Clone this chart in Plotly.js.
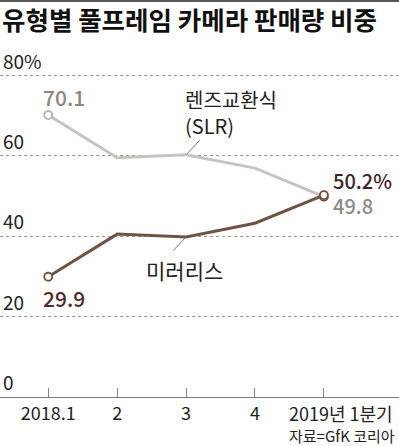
<!DOCTYPE html>
<html>
<head>
<meta charset="utf-8">
<script src="https://cdn.plot.ly/plotly-3.0.1.min.js"></script>
<style>
  html, body { margin: 0; padding: 0; background: #fff; }
  #wrap { position: relative; width: 399px; height: 446px; }
  #topbar { position: absolute; left: 0; top: 0; width: 399px; height: 2px; background: #5a5a5a; z-index: 5; }
  #chart { width: 399px; height: 446px; }
</style>
</head>
<body>
<div id="wrap"><div id="topbar"></div><div id="chart"></div></div>
<script>
// ---- data ----
const categories = ["2018.1", "2", "3", "4", "2019년 1분기"];
const tickLabels = ["2018.1", "2", "3", "4", ""];
const slrValues = [70.1, 59.5, 60.2, 56.9, 49.8];
const mirrorlessValues = [29.9, 40.5, 39.8, 43.2, 50.2];
const yTickValues = [0, 20, 40, 60, 80];
const yTickLabels = ["0", "20", "40", "60", "80%"];
const titleText = "유형별 풀프레임 카메라 판매량 비중";
const sourceText = "자료=GfK 코리아";
const slrName = "렌즈교환식";
const slrSub = "(SLR)";
const mirrorlessName = "미러리스";

// ---- style ----
const FONT = "'Noto Sans CJK KR', 'Noto Sans', sans-serif";
const slrColor = "#c9c2be";
const mlColor = "#6f5446";
const last = categories.length - 1;

const traces = [
  { x: categories, y: slrValues, type: "scatter", mode: "lines",
    line: { color: slrColor, width: 3 }, hoverinfo: "skip", cliponaxis: false },
  { x: categories, y: mirrorlessValues, type: "scatter", mode: "lines",
    line: { color: mlColor, width: 3 }, hoverinfo: "skip", cliponaxis: false },
  { x: [categories[0]], y: [slrValues[0]], type: "scatter", mode: "markers",
    marker: { symbol: "circle", size: 8, color: "#fff", line: { color: "#b5ada8", width: 1.8 } },
    cliponaxis: false, hoverinfo: "skip" },
  { x: [categories[last], categories[0]], y: [slrValues[last], mirrorlessValues[0]], type: "scatter", mode: "markers",
    marker: { symbol: "circle", size: 8, color: "#fff", line: { color: mlColor, width: 1.8 } },
    cliponaxis: false, hoverinfo: "skip" },
  { x: [categories[last]], y: [mirrorlessValues[last]], type: "scatter", mode: "markers",
    marker: { symbol: "circle", size: 8, color: "#fff", line: { color: mlColor, width: 1.8 } },
    cliponaxis: false, hoverinfo: "skip" }
];

const annotations = [
  // data value labels (x given as category index)
  { x: 0, y: slrValues[0], xref: "x", yref: "y", text: slrValues[0].toFixed(1),
    showarrow: false, xanchor: "left", yanchor: "middle", xshift: -7, yshift: 18,
    font: { family: FONT, size: 21, color: "#8e8682", weight: 500 } },
  { x: 0, y: mirrorlessValues[0], xref: "x", yref: "y", text: mirrorlessValues[0].toFixed(1),
    showarrow: false, xanchor: "left", yanchor: "middle", xshift: -7, yshift: -21,
    font: { family: FONT, size: 21, color: "#4f2b2d", weight: 500 } },
  { x: last, y: mirrorlessValues[last], xref: "x", yref: "y", text: mirrorlessValues[last].toFixed(1) + "%",
    showarrow: false, xanchor: "left", yanchor: "middle", xshift: 7, yshift: 15,
    font: { family: FONT, size: 20, color: "#3e2427", weight: 500 } },
  { x: last, y: slrValues[last], xref: "x", yref: "y", text: slrValues[last].toFixed(1),
    showarrow: false, xanchor: "left", yanchor: "middle", xshift: 7, yshift: -9,
    font: { family: FONT, size: 20, color: "#918a86", weight: 500 } },
  // series name labels
  { x: 2, y: slrValues[2], xref: "x", yref: "y", text: slrName + "<br>" + slrSub, showarrow: false,
    xanchor: "left", yanchor: "middle", align: "left", xshift: -3, yshift: 42,
    font: { family: FONT, size: 20, color: "#222" } },
  { x: 2, y: mirrorlessValues[2], xref: "x", yref: "y", text: mirrorlessName, showarrow: false,
    xanchor: "left", yanchor: "middle", xshift: -42, yshift: -33,
    font: { family: FONT, size: 21, color: "#222" } },
  // leader lines
  { x: 2, y: slrValues[2], xref: "x", yref: "y", text: "", showarrow: true, arrowhead: 0,
    arrowwidth: 1, arrowcolor: "#777", ax: 15, ay: -16, standoff: 1 },
  { x: 2, y: mirrorlessValues[2], xref: "x", yref: "y", text: "", showarrow: true, arrowhead: 0,
    arrowwidth: 1, arrowcolor: "#777", ax: -14, ay: 15, standoff: 1 },
  // last x tick label
  { x: last, y: 0, xref: "x", yref: "paper", text: categories[last], showarrow: false,
    xanchor: "center", yanchor: "middle", xshift: 17, yshift: -16,
    font: { family: FONT, size: 18, color: "#222" } },
  // source
  { x: 1, y: 0, xref: "paper", yref: "paper", text: sourceText, showarrow: false,
    xanchor: "right", yanchor: "middle", xshift: -2, yshift: -38,
    font: { family: FONT, size: 15, color: "#222" } }
];

const layout = {
  width: 399, height: 446,
  margin: { l: 0, r: 0, t: 35, b: 49, pad: 0 },
  paper_bgcolor: "rgba(0,0,0,0)", plot_bgcolor: "rgba(0,0,0,0)",
  showlegend: false,
  title: { text: titleText, x: 0.005, xanchor: "left", xref: "container",
           y: 1 - 21 / 446, yref: "container", yanchor: "middle",
           font: { family: FONT, size: 25.5, color: "#111", weight: 700 } },
  xaxis: {
    type: "category", categoryorder: "array", categoryarray: categories,
    range: [-0.7, 5.09], tickvals: categories, ticktext: tickLabels,
    showline: true, linecolor: "#777", linewidth: 1,
    ticks: "inside", ticklen: 9, tickcolor: "#888", tickwidth: 1,
    showgrid: false, zeroline: false, fixedrange: true,
    tickfont: { family: FONT, size: 18, color: "#222" }
  },
  yaxis: {
    range: [0, 90], tickvals: yTickValues, ticktext: yTickLabels,
    ticklabelposition: "inside top", ticks: "",
    showgrid: true, gridcolor: "#999", griddash: "dot", gridwidth: 1,
    zeroline: false, showline: false, fixedrange: true,
    tickfont: { family: FONT, size: 19, color: "#222" }
  },
  annotations: annotations
};

Plotly.newPlot("chart", traces, layout, { staticPlot: true, displayModeBar: false });
</script>
</body>
</html>
